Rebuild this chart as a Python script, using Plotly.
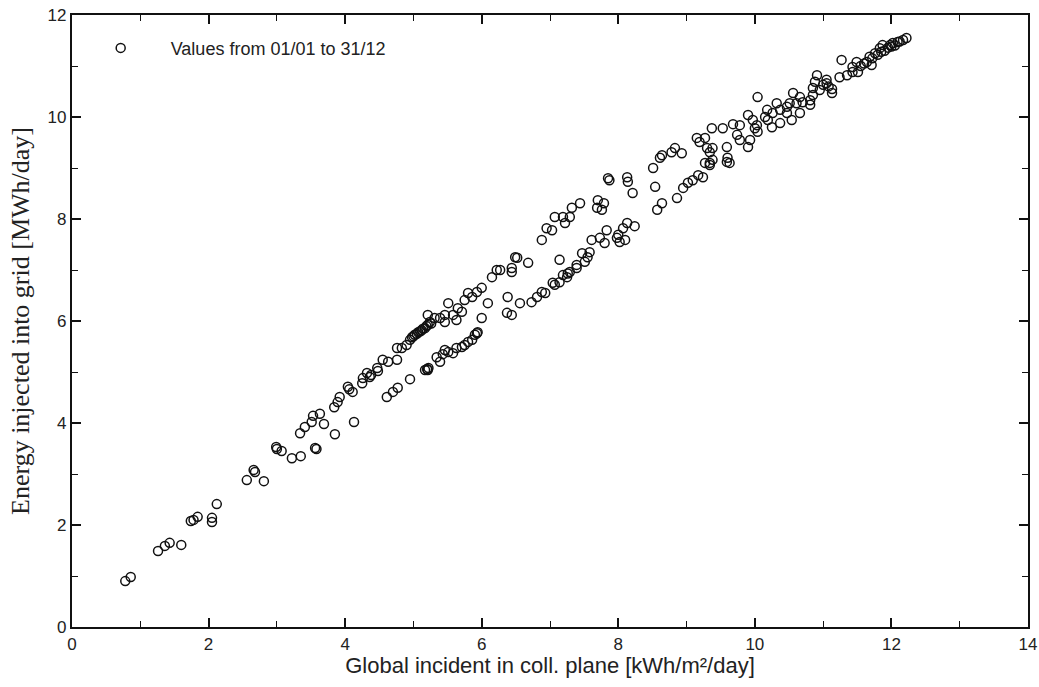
import plotly.graph_objects as go

# Global incident in collector plane [kWh/m²/day]
x_global = [
    0.78, 0.86, 1.26, 1.36, 1.43, 1.60, 1.74, 1.78, 1.84, 2.05, 2.05, 2.12,
    2.56, 2.66, 2.68, 2.81, 2.99, 3.00, 3.07, 3.22, 3.35, 3.56, 3.58,
    3.34, 3.41, 3.53, 3.63, 3.69, 3.51, 3.85, 4.13,
    3.84, 3.89, 3.92, 4.04, 4.11, 4.06, 4.25, 4.26, 4.32, 4.38, 4.48,
    4.36, 4.47, 4.55, 4.63, 4.76,
    # lower band
    4.61, 4.70, 4.77, 4.95, 5.17, 5.21, 5.20, 5.22, 5.34, 5.39, 5.43, 5.46,
    5.51, 5.58, 5.63, 5.71, 5.75, 5.80, 5.86, 5.90, 5.93, 5.94, 6.00, 6.09,
    6.37, 6.44, 6.38, 6.56, 6.73, 6.81, 6.88, 6.93, 7.04, 7.07, 7.14, 7.19,
    7.25, 7.26, 7.29, 7.39, 7.14, 7.39, 7.47, 7.51, 7.55, 7.58, 7.61, 7.73,
    7.80, 7.83, 7.98, 8.00, 8.02, 8.10, 8.07, 8.13, 8.24, 8.57, 8.64, 8.86,
    8.95, 9.02, 9.09, 9.17, 9.24, 9.34, 9.38, 9.59, 9.27, 9.34, 9.60, 9.63,
    # upper band
    4.76, 4.83, 4.90, 4.95, 5.02, 5.07, 5.12, 5.17, 5.21, 5.24, 5.21, 5.31,
    5.39, 5.46, 5.46, 5.51, 5.58, 5.63, 5.65, 5.71, 5.75, 5.80, 5.86, 5.93,
    6.00, 6.15, 6.22, 6.27, 6.44, 6.44, 6.49, 6.52, 6.68, 6.88, 6.95, 7.03,
    7.07, 7.22, 7.19, 7.29, 7.32, 7.44, 7.70, 7.69, 7.76, 7.79, 7.85, 7.87,
    8.13, 8.14, 8.21, 8.51, 8.54, 8.61, 8.64, 8.78, 8.83, 8.93,
    4.98, 5.05, 5.10, 5.14, 5.19, 5.26, 5.00,
    # high irradiance
    9.15, 9.19, 9.27, 9.30, 9.34, 9.38, 9.37, 9.53, 9.59, 9.68, 9.74, 9.78,
    9.78, 9.90, 9.90, 9.93, 9.97, 10.00, 10.04, 10.03, 10.04, 10.15, 10.18,
    10.19, 10.25, 10.26, 10.32, 10.37, 10.37, 10.47, 10.47, 10.51, 10.54,
    10.56, 10.61, 10.66, 10.70, 10.81, 10.85, 10.85, 10.88, 10.91, 10.81,
    10.66, 11.00, 11.05, 11.13, 11.24, 11.35, 11.43, 11.27,
    10.95, 11.05, 11.13, 11.08,
    11.43, 11.49, 11.51, 11.64, 11.68, 11.71, 11.76, 11.83, 11.87, 11.98,
    12.02, 12.09, 12.17, 12.22, 11.55, 11.60, 11.80, 11.90, 11.95, 12.05,
    12.12, 11.72, 11.85, 12.00,
]

# Energy injected into grid [MWh/day]
y_energy = [
    0.90, 0.98, 1.49, 1.59, 1.65, 1.61, 2.08, 2.10, 2.16, 2.14, 2.06, 2.41,
    2.88, 3.08, 3.04, 2.86, 3.53, 3.49, 3.45, 3.31, 3.35, 3.51, 3.49,
    3.80, 3.92, 4.14, 4.18, 3.98, 4.02, 3.78, 4.02,
    4.31, 4.41, 4.51, 4.71, 4.61, 4.66, 4.78, 4.88, 4.98, 4.94, 5.02,
    4.90, 5.08, 5.24, 5.20, 5.24,
    # lower band
    4.51, 4.61, 4.69, 4.86, 5.04, 5.04, 5.06, 5.08, 5.29, 5.20, 5.35, 5.43,
    5.39, 5.37, 5.47, 5.49, 5.53, 5.59, 5.63, 5.73, 5.76, 5.78, 6.06, 6.35,
    6.16, 6.12, 6.47, 6.35, 6.37, 6.47, 6.57, 6.55, 6.75, 6.71, 6.76, 6.90,
    6.86, 6.93, 6.96, 7.04, 7.20, 7.10, 7.33, 7.16, 7.25, 7.35, 7.59, 7.63,
    7.53, 7.78, 7.63, 7.69, 7.55, 7.59, 7.82, 7.92, 7.86, 8.18, 8.31, 8.41,
    8.61, 8.71, 8.76, 8.86, 8.82, 9.10, 9.16, 9.12, 9.10, 9.06, 9.20, 9.10,
    # upper band
    5.47, 5.47, 5.53, 5.63, 5.73, 5.78, 5.82, 5.86, 5.92, 5.98, 6.12, 6.06,
    6.06, 6.12, 5.98, 6.35, 6.12, 6.02, 6.25, 6.18, 6.41, 6.55, 6.47, 6.57,
    6.65, 6.86, 7.00, 7.00, 7.04, 6.96, 7.25, 7.24, 7.14, 7.59, 7.82, 7.78,
    8.04, 7.92, 8.04, 8.04, 8.22, 8.31, 8.37, 8.22, 8.18, 8.31, 8.80, 8.76,
    8.82, 8.73, 8.51, 9.00, 8.63, 9.20, 9.25, 9.31, 9.39, 9.29,
    5.68, 5.75, 5.80, 5.85, 5.90, 5.95, 5.70,
    # high irradiance
    9.59, 9.51, 9.59, 9.39, 9.31, 9.39, 9.78, 9.78, 9.41, 9.86, 9.65, 9.84,
    9.55, 10.04, 9.41, 9.55, 9.94, 9.78, 9.71, 9.84, 10.39, 10.00, 10.14,
    9.94, 9.80, 10.08, 10.27, 10.14, 9.88, 10.20, 10.08, 10.27, 9.94,
    10.47, 10.27, 10.39, 10.29, 10.33, 10.43, 10.57, 10.69, 10.82, 10.24,
    10.08, 10.63, 10.73, 10.47, 10.78, 10.82, 10.88, 11.12,
    10.53, 10.66, 10.55, 10.60,
    10.98, 11.08, 10.88, 11.08, 11.18, 11.02, 11.25, 11.35, 11.41, 11.41,
    11.45, 11.47, 11.51, 11.55, 11.00, 11.05, 11.22, 11.30, 11.36, 11.40,
    11.48, 11.15, 11.28, 11.38,
]

legend_label = "\u00a0\u00a0\u00a0\u00a0\u00a0\u00a0Values from 01/01 to 31/12"

fig = go.Figure()
fig.add_trace(go.Scatter(
    x=x_global, y=y_energy, mode="markers", name=legend_label,
    marker=dict(symbol="circle-open", size=9, color="#111",
                line=dict(width=1.5, color="#111")),
))

axis_common = dict(
    showgrid=False, zeroline=False, showline=True, linecolor="#111",
    linewidth=2.2, mirror="ticks", ticks="inside", ticklen=9, tickwidth=1.6,
    tickcolor="#111", dtick=2, automargin=False,
    tickfont=dict(family="Liberation Sans, Arial", size=17, color="#222"),
    minor=dict(ticks="inside", ticklen=6, tickwidth=1.4, dtick=1, tickcolor="#111"),
)

fig.update_layout(
    width=1039, height=687,
    margin=dict(l=72, r=11, t=15, b=60),
    paper_bgcolor="white", plot_bgcolor="white",
    showlegend=True,
    legend=dict(x=0.030, y=0.976, xanchor="left", yanchor="top",
                bgcolor="rgba(0,0,0,0)",
                font=dict(family="Liberation Sans, Arial", size=18, color="#222")),
    xaxis=dict(range=[0, 14], tick0=0,
               title=dict(text="Global incident in coll. plane [kWh/m²/day]",
                          font=dict(family="Liberation Sans, Arial", size=22, color="#222"),
                          standoff=4),
               **axis_common),
    yaxis=dict(range=[0, 12], tick0=0,
               title=dict(text="Energy injected into grid [MWh/day]",
                          font=dict(family="Liberation Serif, Times New Roman", size=26, color="#222"),
                          standoff=10),
               **axis_common),
)

fig.write_html(
    "out.html",
    config={"displayModeBar": False},
    post_script="document.body.style.margin='0';document.body.style.overflow='hidden';",
)
